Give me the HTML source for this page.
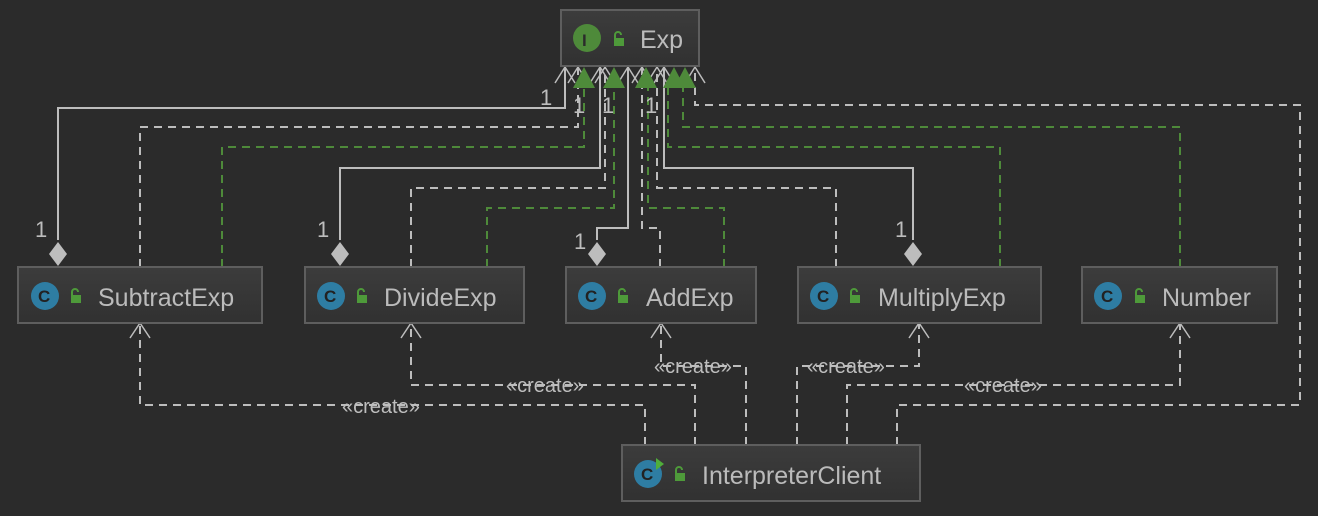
<!DOCTYPE html>
<html><head><style>
html,body{margin:0;padding:0;background:#2b2b2b;}
svg{display:block}
text{font-family:"Liberation Sans","DejaVu Sans",sans-serif;}
</style></head><body>
<svg width="1318" height="516" xmlns="http://www.w3.org/2000/svg">
<defs>
<linearGradient id="bg" x1="0" y1="0" x2="0" y2="1"><stop offset="0" stop-color="#3c3c3c"/><stop offset="1" stop-color="#313131"/></linearGradient>
</defs>
<rect width="1318" height="516" fill="#2b2b2b"/>
<g fill="none" stroke-width="2">
<g stroke="#bdbdbd">
<polyline points="58,240 58,108 565,108 565,66"/>
<polyline points="340,240 340,168 600,168 600,66"/>
<polyline points="597,240 597,228 628,228 628,66"/>
<polyline points="913,240 913,168 664,168 664,66"/>
</g>
<g stroke="#bdbdbd" stroke-dasharray="8,6">
<polyline points="140,267 140,127 578,127 578,66"/>
<polyline points="411,267 411,188 605,188 605,66"/>
<polyline points="660,267 660,228 642,228 642,66"/>
<polyline points="836,267 836,188 657,188 657,66"/>
<polyline points="897,445 897,405 1300,405 1300,105 695,105 695,66"/>
<polyline points="645,445 645,405 140,405 140,323"/>
<polyline points="695,445 695,385 411,385 411,323"/>
<polyline points="746,445 746,366 661,366 661,323"/>
<polyline points="797,445 797,366 919,366 919,323"/>
<polyline points="847,445 847,385 1180,385 1180,323"/>
</g>
<g stroke="#4e8a3a" stroke-dasharray="8,6">
<polyline points="222,267 222,147 584,147 584,80"/>
<polyline points="487,267 487,208 614,208 614,80"/>
<polyline points="724,267 724,208 648,208 648,80"/>
<polyline points="1000,267 1000,147 668,147 668,80"/>
<polyline points="1180,267 1180,127 683,127 683,80"/>
</g>
<g stroke="#bdbdbd" stroke-width="1.5">
<polyline points="555,83 565,67 575,83"/>
<polyline points="568,83 578,67 588,83"/>
<polyline points="590,83 600,67 610,83"/>
<polyline points="595,83 605,67 615,83"/>
<polyline points="618,83 628,67 638,83"/>
<polyline points="632,83 642,67 652,83"/>
<polyline points="647,83 657,67 667,83"/>
<polyline points="654,83 664,67 674,83"/>
<polyline points="685,83 695,67 705,83"/>
<polyline points="130,338 140,323 150,338"/>
<polyline points="401,338 411,323 421,338"/>
<polyline points="651,338 661,323 671,338"/>
<polyline points="909,338 919,323 929,338"/>
<polyline points="1170,338 1180,323 1190,338"/>
</g>
</g>
<g fill="#4e8a3a">
<polygon points="584,67 573,88 595,88"/>
<polygon points="614,67 603,88 625,88"/>
<polygon points="646,67 635,88 657,88"/>
<polygon points="674,67 663,88 685,88"/>
<polygon points="685,67 674,88 696,88"/>
</g>
<g fill="#bdbdbd">
<polygon points="58,242 67,254 58,266 49,254"/>
<polygon points="340,242 349,254 340,266 331,254"/>
<polygon points="597,242 606,254 597,266 588,254"/>
<polygon points="913,242 922,254 913,266 904,254"/>
</g>
<g fill="#bdbdbd" font-size="22">
<text x="540" y="105">1</text><text x="573" y="113">1</text><text x="602" y="113">1</text><text x="645" y="113">1</text>
<text x="35" y="237">1</text><text x="317" y="237">1</text><text x="574" y="249">1</text><text x="895" y="237">1</text>
</g>
<g fill="#bdbdbd" font-size="20">
<text x="342" y="413">«create»</text>
<text x="506" y="392">«create»</text>
<text x="654" y="373">«create»</text>
<text x="807" y="373">«create»</text>
<text x="964" y="392">«create»</text>
</g>
<g stroke="#5e5e5e" stroke-width="2" fill="url(#bg)">
<rect x="561" y="10" width="138" height="56"/>
<rect x="18" y="267" width="244" height="56"/>
<rect x="305" y="267" width="219" height="56"/>
<rect x="566" y="267" width="190" height="56"/>
<rect x="798" y="267" width="243" height="56"/>
<rect x="1082" y="267" width="195" height="56"/>
<rect x="622" y="445" width="298" height="56"/>
</g>
<g font-size="25" fill="#bbbbbb">
<circle cx="587" cy="38" r="14" fill="#4e8a3a"/><text x="582" y="46" font-size="17" font-weight="bold" fill="#2b2b2b" font-family="Liberation Serif">I</text>
<text x="640" y="48">Exp</text>
<circle cx="45" cy="296" r="14" fill="#2e7da3"/><text x="38" y="302" font-size="17" font-weight="bold" fill="#222">C</text><text x="98" y="306">SubtractExp</text>
<circle cx="331" cy="296" r="14" fill="#2e7da3"/><text x="324" y="302" font-size="17" font-weight="bold" fill="#222">C</text><text x="384" y="306">DivideExp</text>
<circle cx="592" cy="296" r="14" fill="#2e7da3"/><text x="585" y="302" font-size="17" font-weight="bold" fill="#222">C</text><text x="646" y="306">AddExp</text>
<circle cx="824" cy="296" r="14" fill="#2e7da3"/><text x="817" y="302" font-size="17" font-weight="bold" fill="#222">C</text><text x="878" y="306">MultiplyExp</text>
<circle cx="1108" cy="296" r="14" fill="#2e7da3"/><text x="1101" y="302" font-size="17" font-weight="bold" fill="#222">C</text><text x="1162" y="306">Number</text>
<circle cx="648" cy="474" r="14" fill="#2e7da3"/><text x="641" y="480" font-size="17" font-weight="bold" fill="#222">C</text><polygon points="656,458 664,464 656,470" fill="#4fae3a"/><text x="702" y="484">InterpreterClient</text>
</g>
<g fill="#4e9a3a" stroke="#4e9a3a">
<g transform="translate(612,32)"><rect x="2" y="6" width="10" height="8" stroke="none"/><path d="M3,6 V3 A3,3 0 0 1 9,3" fill="none" stroke-width="2"/></g>
<g transform="translate(69,289)"><rect x="2" y="6" width="10" height="8" stroke="none"/><path d="M3,6 V3 A3,3 0 0 1 9,3" fill="none" stroke-width="2"/></g>
<g transform="translate(355,289)"><rect x="2" y="6" width="10" height="8" stroke="none"/><path d="M3,6 V3 A3,3 0 0 1 9,3" fill="none" stroke-width="2"/></g>
<g transform="translate(616,289)"><rect x="2" y="6" width="10" height="8" stroke="none"/><path d="M3,6 V3 A3,3 0 0 1 9,3" fill="none" stroke-width="2"/></g>
<g transform="translate(848,289)"><rect x="2" y="6" width="10" height="8" stroke="none"/><path d="M3,6 V3 A3,3 0 0 1 9,3" fill="none" stroke-width="2"/></g>
<g transform="translate(1133,289)"><rect x="2" y="6" width="10" height="8" stroke="none"/><path d="M3,6 V3 A3,3 0 0 1 9,3" fill="none" stroke-width="2"/></g>
<g transform="translate(673,467)"><rect x="2" y="6" width="10" height="8" stroke="none"/><path d="M3,6 V3 A3,3 0 0 1 9,3" fill="none" stroke-width="2"/></g>
</g>
</svg>
</body></html>
